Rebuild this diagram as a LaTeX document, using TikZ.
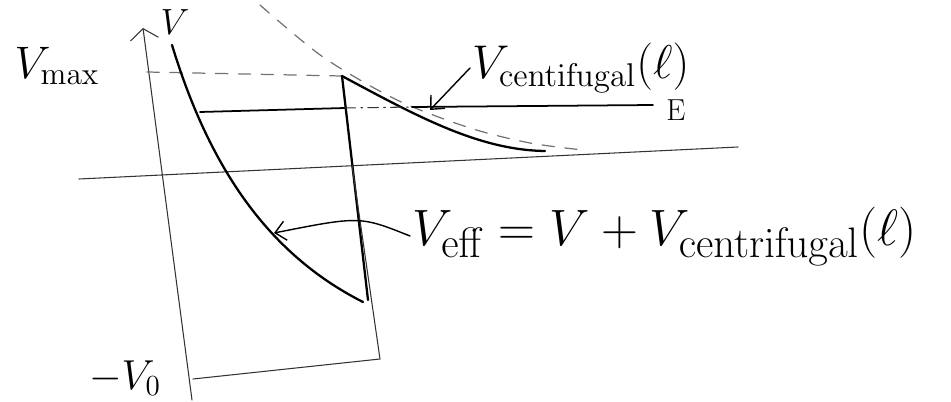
\documentclass[tikz,border=0pt]{standalone}
\usepackage{amsmath}
\usetikzlibrary{arrows.meta,positioning}

\begin{document}
\begin{tikzpicture}[x=0.02cm,y=-0.02cm,line cap=round,
  thin line/.style={black!80,line width=0.6pt},
  bold line/.style={black,line width=1.3pt},
  dash line/.style={black!55,dash pattern=on 7pt off 6pt,line width=0.7pt},
  lbl/.style={font=\huge,inner sep=1pt},
  big lbl/.style={font=\Huge,inner sep=1pt},
  pointer/.style={-{Straight Barb[length=6pt,width=11pt]},line width=0.8pt}]
  \useasboundingbox (0,0) rectangle (951,402);

  % axes
  \coordinate (ybot) at (192,400);
  \coordinate (ytop) at (143,28);
  \coordinate (rleft) at (79,179);
  \coordinate (rright) at (738,147);
  \draw[thin line,-{Straight Barb[length=6pt,width=16pt]}] (ybot) -- (ytop);
  \draw[thin line] (rleft) -- (rright);
  \node[lbl] (vlab) at (175,22) {$V$};
  \node[lbl] (vmax) at (57,66) {\scalebox{1.25}{$V_{\mathrm{max}}$}};
  \node[lbl] (vnull) at (125,378) {\scalebox{1.15}{$-V_0$}};

  % square well and barrier top
  \coordinate (vmaxl) at (147,72);
  \coordinate (peak) at (342,76);
  \coordinate (wallbot) at (368,300);
  \coordinate (wellr) at (380,359);
  \coordinate (welll) at (193,379);
  \draw[dash line] (vmaxl) -- (peak);
  \draw[bold line] (peak) -- (wallbot);
  \draw[thin line] (352,165) -- (wellr) -- (welll);

  % effective potential inside
  \draw[bold line] (172,45) .. controls (210,170) and (270,255) .. (363,302);
  \coordinate (effpt) at (274,233);

  % centrifugal barrier
  \draw[bold line] (peak) .. controls (420,118) and (480,150) .. (545,151);
  \draw[dash line] plot[smooth] coordinates
    {(260,5) (323,57) (397,100) (470,128) (530,143) (583,150)};
  \coordinate (centpt) at (430,110);

  % energy level
  \draw[bold line,line width=1pt] (200,112) -- (345,108);
  \draw[thin line,dash pattern=on 6pt off 3pt on 1pt off 3pt] (345,108) -- (412,107);
  \draw[bold line,line width=1pt] (412,107) -- (653,105);
  \node[lbl,font=\LARGE] (elab) at (676,110) {E};

  % labels with pointers
  \node[lbl,anchor=west] (cent) at (470,68) {\scalebox{1.3}{$V_{\mathrm{centifugal}}(\ell)$}};
  \draw[pointer] (cent.west) -- (centpt);
  \node[big lbl,anchor=west] (eff) at (410,236) {\scalebox{1.17}{$V_{\mathrm{eff}} = V + V_{\mathrm{centrifugal}}(\ell)$}};
  \draw[pointer] (eff.west) .. controls (360,216) .. (effpt);
\end{tikzpicture}
\end{document}
